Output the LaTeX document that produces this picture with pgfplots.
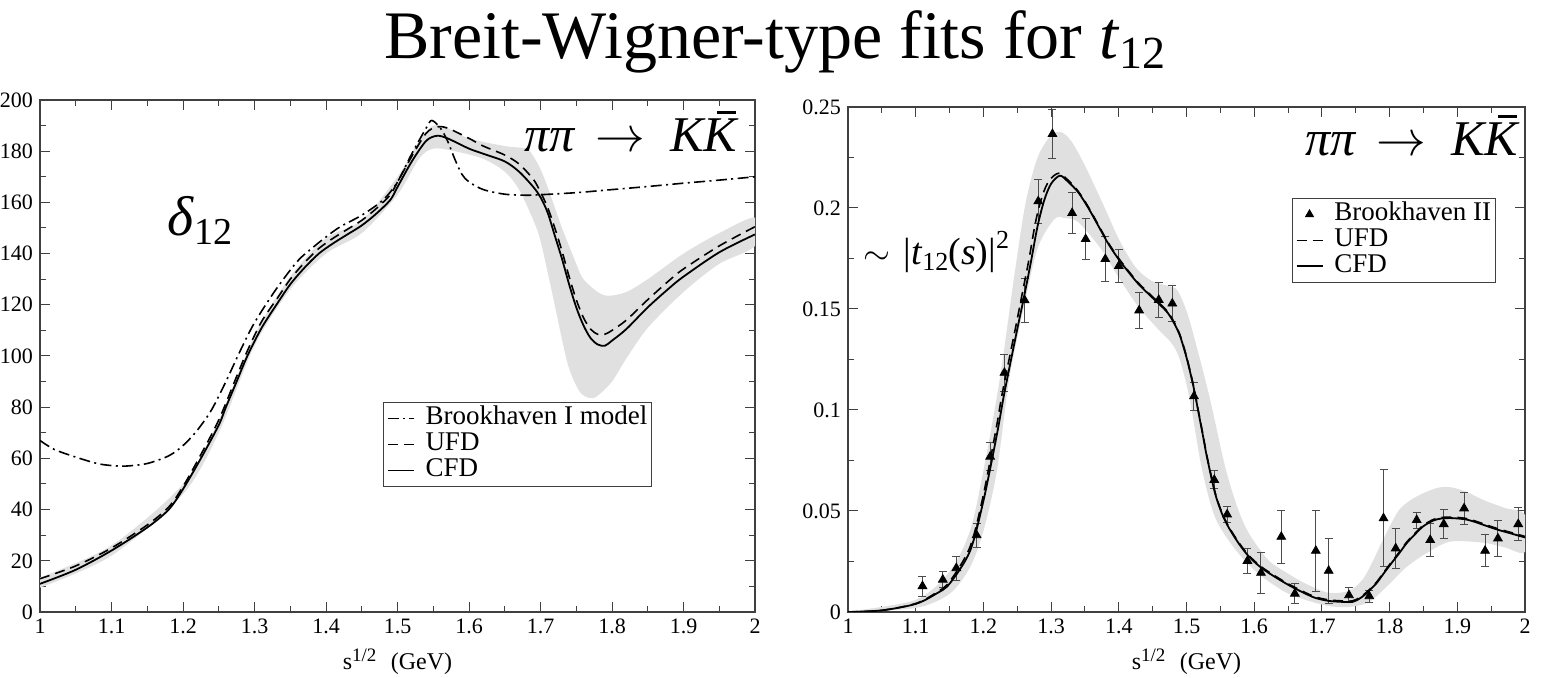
\documentclass[border=0pt]{standalone}
\usepackage{pgfplots}
\pgfplotsset{compat=1.18}
\usepackage{pgfplotstable}
\usepackage{fontspec}
\setmainfont{Liberation Serif}
\definecolor{band}{gray}{0.88}
\newcommand\pipiKK{{\itshape ππ\hspace{0.42em}$\rightarrow$\hspace{0.5em}K\makebox[0pt][l]{\hspace{0.27em}\raisebox{0.74em}{\rule{0.38em}{0.06em}}}K}}

% ---------- left panel data ----------
\pgfplotstableread{
x y
1.00 11
1.05 16.5
1.10 24
1.15 33
1.18 40
1.20 48
1.225 60
1.25 73
1.26 80
1.275 90
1.29 100
1.31 111
1.333 121
1.35 128
1.37 134.5
1.39 140
1.41 144
1.43 147.5
1.45 151
1.47 155.5
1.49 161
1.50 166
1.52 176
1.54 184
1.555 186
1.57 185
1.60 181
1.62 179
1.65 176
1.67 172
1.69 166
1.70 162
1.71 156
1.72 147
1.73 138
1.74 128
1.75 119
1.76 112
1.77 107
1.78 104.5
1.79 104
1.80 106
1.82 110.5
1.85 119
1.88 126.5
1.90 131
1.95 140.5
2.00 147.5
}\cfdL
\pgfplotstableread{
x y
1.00 13
1.05 18
1.10 25
1.15 34
1.18 41
1.20 49
1.225 61.5
1.25 75
1.275 92
1.29 102
1.31 113.5
1.333 123
1.35 130
1.37 136.5
1.39 142
1.41 146
1.43 149.5
1.45 153
1.47 157.5
1.49 163
1.50 168
1.52 178
1.54 187
1.555 189.5
1.57 189
1.60 185
1.62 182
1.65 178.5
1.67 175
1.69 169
1.70 164
1.71 158
1.72 150
1.73 141
1.74 131
1.75 122
1.76 115
1.77 110.5
1.78 108.5
1.79 108.5
1.80 110
1.82 114
1.85 122
1.88 129.5
1.90 134
1.95 143
2.00 150.5
}\ufdL
\pgfplotstableread{
x y
1.00 67
1.02 63.5
1.05 60.5
1.08 58
1.10 57.2
1.12 57
1.15 58
1.18 61
1.20 65
1.22 71
1.24 79
1.26 90
1.28 102
1.30 113
1.33 126
1.36 137
1.38 142
1.40 146.5
1.42 150.5
1.45 155
1.48 161
1.50 168
1.52 179
1.54 189
1.548 192
1.56 189
1.57 184
1.58 177
1.59 171
1.60 168
1.62 165
1.65 163.2
1.68 162.8
1.70 163
1.75 163.8
1.80 165
1.85 166.2
1.90 167.5
1.95 168.7
2.00 170
}\bnlL
% band polygon: upper edge left->right, then lower edge right->left
\pgfplotstableread{
x y
1.00 13.5
1.10 26
1.20 50
1.25 75
1.30 108
1.35 131
1.40 146
1.45 153
1.50 170
1.53 184
1.55 190
1.57 189
1.60 185
1.65 182
1.68 181
1.69 178
1.70 173
1.71 166
1.72 158
1.73 150
1.74 143
1.75 136
1.76 130
1.78 125
1.795 123.5
1.82 125
1.85 130
1.90 140
1.95 148
2.00 154
2.00 143
1.95 136
1.90 125
1.85 111
1.82 99
1.80 90
1.78 84.5
1.77 83.5
1.755 86
1.738 97
1.716 125
1.70 145
1.69 153
1.67 165
1.65 172
1.62 177
1.58 180
1.55 181
1.53 177
1.50 163
1.45 148
1.40 140
1.35 126
1.30 104
1.25 70
1.20 46
1.10 22
1.00 9.5
}\bandL

% ---------- right panel data ----------
\pgfplotstableread{
x y
1.00 0
1.05 0.0008
1.10 0.004
1.13 0.009
1.15 0.014
1.18 0.03
1.20 0.055
1.22 0.088
1.231 0.1085
1.25 0.14
1.26 0.156
1.27 0.173
1.28 0.191
1.29 0.204
1.30 0.212
1.313 0.216
1.325 0.213
1.34 0.2078
1.355 0.2
1.37 0.191
1.385 0.182
1.40 0.1745
1.415 0.168
1.43 0.162
1.45 0.1555
1.47 0.149
1.48 0.144
1.49 0.137
1.50 0.126
1.51 0.112
1.517 0.1
1.525 0.086
1.53 0.077
1.542 0.059
1.552 0.049
1.562 0.042
1.577 0.034
1.592 0.0275
1.61 0.022
1.63 0.0175
1.65 0.0135
1.67 0.01
1.69 0.007
1.71 0.0055
1.73 0.005
1.745 0.005
1.755 0.0065
1.765 0.009
1.78 0.014
1.79 0.0185
1.80 0.023
1.814 0.029
1.825 0.034
1.839 0.039
1.85 0.0425
1.864 0.0452
1.875 0.0462
1.889 0.0465
1.90 0.0463
1.913 0.0458
1.925 0.0447
1.938 0.0432
1.95 0.0418
1.963 0.0404
1.98 0.0388
2.00 0.0369
}\cfdR
\pgfplotstableread{
x y
1.00 0
1.05 0.0008
1.10 0.0042
1.13 0.0095
1.15 0.015
1.18 0.032
1.20 0.058
1.22 0.093
1.228 0.1085
1.247 0.14
1.257 0.157
1.267 0.174
1.277 0.193
1.287 0.206
1.297 0.2135
1.311 0.2172
1.325 0.2138
1.34 0.2083
1.355 0.2005
1.37 0.1915
1.385 0.1825
1.40 0.175
1.415 0.1685
1.43 0.1625
1.45 0.156
1.47 0.1495
1.48 0.1445
1.49 0.1375
1.50 0.1265
1.51 0.1125
1.517 0.1005
1.525 0.0865
1.53 0.0775
1.542 0.0595
1.552 0.0495
1.562 0.0425
1.577 0.0345
1.592 0.028
1.61 0.0225
1.63 0.018
1.65 0.014
1.67 0.0105
1.69 0.0075
1.71 0.006
1.73 0.0055
1.745 0.0055
1.755 0.007
1.765 0.0095
1.78 0.0145
1.79 0.019
1.80 0.0235
1.814 0.0295
1.825 0.0345
1.839 0.0395
1.85 0.043
1.864 0.0457
1.875 0.0467
1.889 0.047
1.90 0.0468
1.913 0.0463
1.925 0.0452
1.938 0.0437
1.95 0.0423
1.963 0.0409
1.98 0.0393
2.00 0.0374
}\ufdR
\pgfplotstableread{
x y
1.00 0.0003
1.10 0.006
1.15 0.02
1.18 0.04
1.20 0.07
1.224 0.115
1.245 0.165
1.262 0.202
1.28 0.225
1.30 0.236
1.315 0.2375
1.33 0.233
1.35 0.221
1.38 0.1995
1.40 0.1846
1.424 0.171
1.448 0.164
1.473 0.1614
1.487 0.159
1.502 0.147
1.52 0.125
1.535 0.105
1.557 0.072
1.575 0.052
1.592 0.039
1.621 0.0257
1.65 0.019
1.676 0.014
1.71 0.0095
1.74 0.0105
1.76 0.016
1.775 0.025
1.79 0.0356
1.814 0.0505
1.839 0.057
1.869 0.0613
1.889 0.0618
1.913 0.0596
1.938 0.0555
1.97 0.0515
2.00 0.048
2.00 0.0298
1.97 0.032
1.938 0.0343
1.889 0.0348
1.854 0.029
1.824 0.022
1.80 0.014
1.77 0.005
1.74 0.0025
1.705 0.0033
1.651 0.009
1.606 0.019
1.572 0.031
1.542 0.047
1.522 0.072
1.505 0.105
1.49 0.125
1.478 0.133
1.458 0.14
1.428 0.1515
1.399 0.166
1.374 0.1796
1.34 0.193
1.32 0.195
1.305 0.1945
1.28 0.18
1.258 0.148
1.238 0.115
1.22 0.07
1.20 0.04
1.18 0.022
1.15 0.009
1.10 0.002
1.00 0
}\bandR
\pgfplotstableread{
x y e
1.11 0.0128 0.005
1.14 0.016 0.004
1.16 0.0217 0.006
1.19 0.038 0.006
1.21 0.0769 0.007
1.231 0.1184 0.009
1.261 0.1543 0.011
1.281 0.2033 0.011
1.302 0.2366 0.012
1.331 0.1975 0.010
1.351 0.1846 0.010
1.380 0.1747 0.011
1.400 0.1713 0.008
1.430 0.1493 0.009
1.459 0.1545 0.0085
1.479 0.1527 0.009
1.511 0.1068 0.007
1.541 0.0654 0.0045
1.560 0.0483 0.004
1.590 0.0253 0.006
1.610 0.0194 0.010
1.640 0.0372 0.013
1.660 0.0091 0.005
1.691 0.0303 0.020
1.710 0.0204 0.016
1.740 0.0083 0.0037
1.770 0.0078 0.003
1.791 0.0464 0.024
1.809 0.0315 0.010
1.840 0.0455 0.004
1.860 0.0356 0.008
1.880 0.0435 0.007
1.910 0.0513 0.008
1.941 0.0303 0.008
1.960 0.0364 0.009
1.990 0.0435 0.008
}\ptsR

\pgfplotsset{
  myax/.style={
    scale only axis,
    xmin=1, xmax=2,
    xtick={1,1.1,1.2,1.3,1.4,1.5,1.6,1.7,1.8,1.9,2},
    xticklabels={1,1.1,1.2,1.3,1.4,1.5,1.6,1.7,1.8,1.9,2},
    minor x tick num=1, minor y tick num=1,
    tick align=inside,
    major tick length=5pt, minor tick length=3pt,
    axis line style={black!75, line width=0.6pt},
    tick style={black!75, line width=0.5pt},
    ticklabel style={font=\fontsize{11}{12}\selectfont},
    xlabel={s\raisebox{0.75ex}{\fontsize{9.5}{10}\selectfont 1/2}\hspace{0.6em}(GeV)},
    xlabel style={font=\fontsize{12}{14}\selectfont, yshift=-0.5pt},
    legend cell align=left,
    legend image code/.code={\draw[#1] (0pt,0pt) -- (13pt,0pt); \path (0pt,0pt) (18pt,0pt);},
  },
  leg/.style={draw=black!75, line width=0.5pt, fill=white, inner sep=1.5pt,
    font=\fontsize{13.5}{14}\selectfont,
    nodes={inner sep=0.5pt, text height=9pt, text depth=3pt}},
}

\begin{document}
\begin{tikzpicture}
\path[use as bounding box] (0pt,0pt) rectangle (773.5pt,339pt);
\node[anchor=base, font=\fontsize{34}{40}\selectfont] at (387.5pt,309.5pt)
  {Breit-Wigner-type fits for \textit{t}\raisebox{-0.32ex}{\fontsize{23}{24}\selectfont 12}};

% ================= left =================
\begin{axis}[myax,
  at={(20pt,33pt)}, anchor=south west, width=357.5pt, height=256pt,
  ymin=0, ymax=200,
  ytick={0,20,40,60,80,100,120,140,160,180,200},
  yticklabels={0,20,40,60,80,100,120,140,160,180,200},
  legend style={leg, at={(0.48,0.41)}, anchor=north west},
]
\addplot[fill=band, draw=none, smooth, forget plot] table[x=x,y=y] {\bandL} -- cycle;
\addplot[black, line width=0.8pt, smooth, dash pattern=on 5.5pt off 2.2pt on 1pt off 2.2pt] table[x=x,y=y] {\bnlL};
\addlegendentry{Brookhaven I model}
\addplot[black, line width=0.8pt, smooth, dash pattern=on 5pt off 3pt] table[x=x,y=y] {\ufdL};
\addlegendentry{UFD}
\addplot[black, line width=0.9pt, smooth] table[x=x,y=y] {\cfdL};
\addlegendentry{CFD}
\node[anchor=base east, font=\fontsize{25}{26}\selectfont, inner sep=0pt] at (axis cs:1.975,180) {\pipiKK};
\node[anchor=base west, font=\fontsize{28}{30}\selectfont, inner sep=0pt] at (axis cs:1.178,147) {\textit{δ}\raisebox{-0.35ex}{\fontsize{19}{20}\selectfont 12}};
\end{axis}

% ================= right =================
\begin{axis}[myax,
  at={(424pt,33pt)}, anchor=south west, width=338.5pt, height=252.5pt,
  ymin=0, ymax=0.25,
  ytick={0,0.05,0.1,0.15,0.2,0.25},
  yticklabels={0,0.05,0.1,0.15,0.2,0.25},
  legend style={leg, at={(0.656,0.82)}, anchor=north west},
]
\addplot[fill=band, draw=none, smooth, forget plot] table[x=x,y=y] {\bandR} -- cycle;
\addplot[only marks, mark=triangle*, mark size=2.5pt, black,
  legend image code/.code={\draw[black, fill=black] plot[mark=triangle*, mark size=2.2pt] coordinates {(6.5pt,0pt)}; \path (0pt,0pt) (18pt,0pt);},
  error bars/.cd, y dir=both, y explicit, error mark=-,
  error bar style={black!70, line width=0.5pt},
  error mark options={rotate=90, black!70, mark size=2pt, line width=0.5pt}]
  table[x=x, y=y, y error=e] {\ptsR};
\addlegendentry{Brookhaven II}
\addplot[black, line width=0.8pt, smooth, dash pattern=on 5pt off 3pt] table[x=x,y=y] {\ufdR};
\addlegendentry{UFD}
\addplot[black, line width=0.9pt, smooth] table[x=x,y=y] {\cfdR};
\addlegendentry{CFD}
\node[anchor=base east, font=\fontsize{25}{26}\selectfont, inner sep=0pt] at (axis cs:1.99,0.2262) {\pipiKK};
\node[anchor=base west, font=\fontsize{19}{20}\selectfont, inner sep=0pt] at (axis cs:1.022,0.172)
  {$\sim$\hspace{0.35em}|\textit{t}\raisebox{-0.35ex}{\fontsize{13}{14}\selectfont 12}(\textit{s})|\raisebox{0.9ex}{\fontsize{13}{14}\selectfont 2}};
\end{axis}
\end{tikzpicture}
\end{document}
